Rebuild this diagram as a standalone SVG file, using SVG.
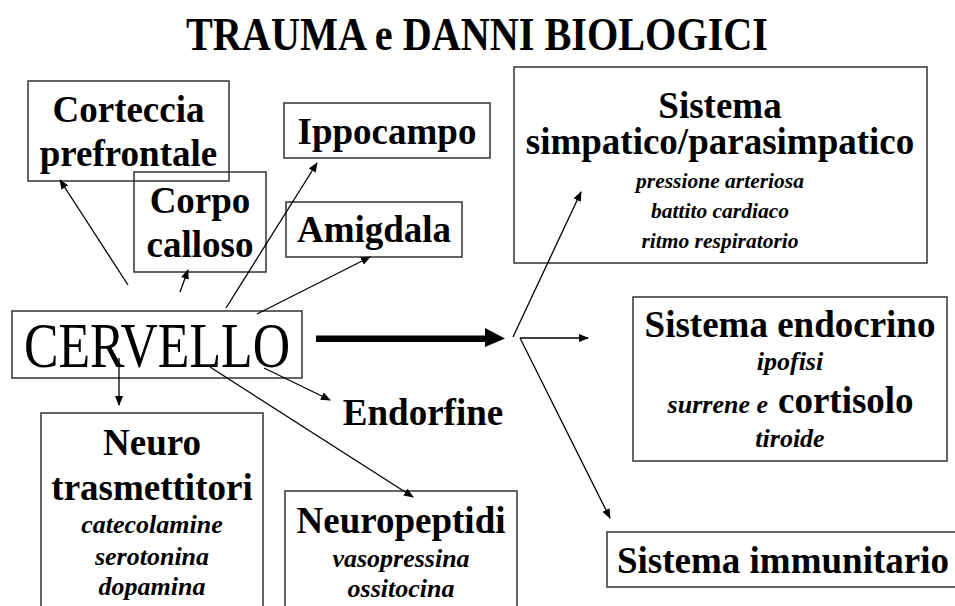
<svg xmlns="http://www.w3.org/2000/svg" width="955" height="606" viewBox="0 0 955 606">
<style>
.box{fill:none;stroke:#333;stroke-width:1.5}
.b{font-family:"Liberation Serif","Times New Roman",serif;font-weight:bold;font-size:37px;text-anchor:middle;fill:#000}
.i{font-family:"Liberation Serif","Times New Roman",serif;font-weight:bold;font-style:italic;font-size:26px;text-anchor:middle;fill:#000}
.i2{font-size:21.5px}
.ln{stroke:#000;stroke-width:1.3;fill:none}
</style>
<defs>
<marker id="ah" markerUnits="userSpaceOnUse" markerWidth="10" markerHeight="8" refX="9" refY="4" orient="auto">
<path d="M0,0 L10,4 L0,8 Z" fill="#000"/>
</marker>
</defs>
<rect width="955" height="606" fill="#fff"/>
<text id="title" x="477" y="50" class="b" style="font-size:46px" textLength="582" lengthAdjust="spacingAndGlyphs">TRAUMA e DANNI BIOLOGICI</text>

<g id="corteccia">
<rect class="box" x="28" y="81" width="201" height="100"/>
<text class="b" x="128.5" y="122">Corteccia</text>
<text class="b" x="128.5" y="166">prefrontale</text>
</g>
<g id="corpo">
<rect class="box" x="134" y="172" width="132" height="100"/>
<text class="b" x="200" y="213">Corpo</text>
<text class="b" x="200" y="257">calloso</text>
</g>
<g id="ippocampo">
<rect class="box" x="284" y="103" width="206" height="55"/>
<text class="b" x="387" y="144">Ippocampo</text>
</g>
<g id="amigdala">
<rect class="box" x="286" y="202" width="176" height="55"/>
<text class="b" x="374" y="242">Amigdala</text>
</g>
<g id="cervello">
<rect class="box" x="12" y="311" width="290" height="67"/>
<text x="157" y="367" style="font-family:'Liberation Serif','Times New Roman',serif;font-size:64px;text-anchor:middle" textLength="266" lengthAdjust="spacingAndGlyphs">CERVELLO</text>
</g>
<g id="endorfine">
<text class="b" x="423" y="425">Endorfine</text>
</g>
<g id="neurotrasmettitori">
<rect class="box" x="41" y="413" width="222" height="210"/>
<text class="b" x="152" y="455">Neuro</text>
<text class="b" x="152" y="500">trasmettitori</text>
<text class="i" x="152" y="533">catecolamine</text>
<text class="i" x="152" y="565">serotonina</text>
<text class="i" x="152" y="595">dopamina</text>
</g>
<g id="neuropeptidi">
<rect class="box" x="285" y="491" width="232" height="130"/>
<text class="b" x="401" y="533">Neuropeptidi</text>
<text class="i" x="401" y="567">vasopressina</text>
<text class="i" x="401" y="597">ossitocina</text>
</g>
<g id="simpatico">
<rect class="box" x="514" y="67" width="413" height="196"/>
<text class="b" x="720" y="118">Sistema</text>
<text class="b" x="720" y="154">simpatico/parasimpatico</text>
<text class="i i2" x="720" y="188">pressione arteriosa</text>
<text class="i i2" x="720" y="218">battito cardiaco</text>
<text class="i i2" x="720" y="248">ritmo respiratorio</text>
</g>
<g id="endocrino">
<rect class="box" x="633" y="297" width="314" height="164"/>
<text class="b" x="790" y="337">Sistema endocrino</text>
<text class="i" x="790" y="370">ipofisi</text>
<text class="i" style="text-anchor:end" x="768" y="413">surrene e</text>
<text class="b" style="text-anchor:start" x="778" y="413">cortisolo</text>
<text class="i" x="790" y="447">tiroide</text>
</g>
<g id="immunitario">
<rect class="box" x="607" y="532" width="370" height="55"/>
<text class="b" x="783" y="573">Sistema immunitario</text>
</g>

<g id="connectors">
<line class="ln" x1="128" y1="285" x2="60" y2="180" marker-end="url(#ah)"/>
<line class="ln" x1="180" y1="292" x2="188" y2="270" marker-end="url(#ah)"/>
<line class="ln" x1="226" y1="308" x2="317" y2="163" marker-end="url(#ah)"/>
<line class="ln" x1="257" y1="314" x2="370" y2="257" marker-end="url(#ah)"/>
<line class="ln" x1="119" y1="358" x2="119" y2="405" marker-end="url(#ah)"/>
<line class="ln" x1="264" y1="368" x2="330" y2="400" marker-end="url(#ah)"/>
<line class="ln" x1="210" y1="367" x2="413" y2="497" marker-end="url(#ah)"/>
<path d="M316,335.5 H487 V342 H316 Z" fill="#000"/>
<path d="M485,328 L505,338.5 L485,347 Z" fill="#000"/>
<line class="ln" x1="513" y1="337" x2="581" y2="192" marker-end="url(#ah)"/>
<line class="ln" x1="520" y1="338" x2="588" y2="338" marker-end="url(#ah)"/>
<line class="ln" x1="520" y1="338" x2="610" y2="518" marker-end="url(#ah)"/>
</g>
</svg>
